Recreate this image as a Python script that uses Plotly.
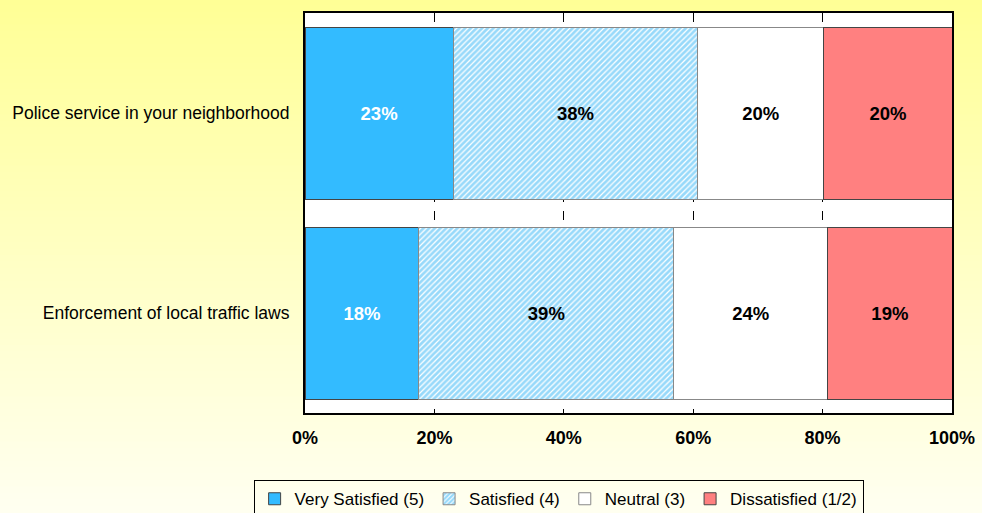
import plotly.graph_objects as go

# Survey items (bottom to top)
categories = ["Enforcement of local traffic laws", "Police service in your neighborhood"]

# Share of respondents per rating, in percent
very_satisfied = [17.6, 22.9]
satisfied = [39.4, 37.8]
neutral = [23.8, 19.5]
dissatisfied = [19.2, 19.8]

series_names = ["Very Satisfied (5)", "Satisfied (4)", "Neutral (3)", "Dissatisfied (1/2)"]
x_ticks = [0, 20, 40, 60, 80, 100]
x_tick_labels = ["0%", "20%", "40%", "60%", "80%", "100%"]

FONT = "Liberation Sans, Arial, sans-serif"
EDGE = dict(color="#444444", width=1)
LABEL_SIZE = 18.5

fig = go.Figure()

fig.add_trace(go.Bar(
    y=categories, x=very_satisfied, name=series_names[0], orientation="h",
    marker=dict(color="#33BBFF", line=EDGE),
    text=very_satisfied, texttemplate="%{x:.0f}%",
    textfont=dict(color="white", size=LABEL_SIZE, family=FONT, weight="bold"),
))
fig.add_trace(go.Bar(
    y=categories, x=satisfied, name=series_names[1], orientation="h",
    marker=dict(color="white", line=dict(color="#888888", width=1),
                pattern=dict(shape="/", fgcolor="#2FB4F5", bgcolor="white",
                             size=4, solidity=0.7)),
    text=satisfied, texttemplate="%{x:.0f}%",
    textfont=dict(color="black", size=LABEL_SIZE, family=FONT, weight="bold"),
))
fig.add_trace(go.Bar(
    y=categories, x=neutral, name=series_names[2], orientation="h",
    marker=dict(color="white", line=dict(color="#888888", width=1)),
    text=neutral, texttemplate="%{x:.0f}%",
    textfont=dict(color="black", size=LABEL_SIZE, family=FONT, weight="bold"),
))
fig.add_trace(go.Bar(
    y=categories, x=dissatisfied, name=series_names[3], orientation="h",
    marker=dict(color="#FF8080", line=EDGE),
    text=dissatisfied, texttemplate="%{x:.0f}%",
    textfont=dict(color="black", size=LABEL_SIZE, family=FONT, weight="bold"),
))

fig.update_traces(textposition="inside", insidetextanchor="middle",
                  textangle=0, constraintext="none", width=0.86)

# Figure geometry in pixels
W, H = 982, 513
M_L, M_R, M_T, M_B = 305, 30, 13, 100
plot_h = H - M_T - M_B

# Vertical yellow-to-cream gradient behind the whole figure, built from strips
shapes = []
n_strips = 80
top_rgb = (255, 255, 150)
bot_rgb = (255, 255, 240)
for i in range(n_strips):
    t = i / (n_strips - 1)
    r, g, b = (round(top_rgb[c] + (bot_rgb[c] - top_rgb[c]) * t) for c in range(3))
    # strip edges measured in pixels from the top of the figure
    top_px = H * i / n_strips
    bot_px = H * (i + 1) / n_strips
    y1 = (H - M_B - top_px) / plot_h + 0.003
    y0 = (H - M_B - bot_px) / plot_h - 0.003
    shapes.append(dict(type="rect", xref="paper", yref="paper",
                       x0=-1, x1=2, y0=y0, y1=y1, layer="below",
                       line=dict(width=0), fillcolor=f"rgb({r},{g},{b})"))

# White plotting area on top of the gradient
shapes.append(dict(type="rect", xref="paper", yref="paper",
                   x0=0, x1=1, y0=0, y1=1, layer="below",
                   line=dict(width=0), fillcolor="white"))

fig.update_layout(
    barmode="stack",
    width=W, height=H,
    margin=dict(l=M_L, r=M_R, t=M_T, b=M_B, autoexpand=False),
    paper_bgcolor="#FFFFF0",
    plot_bgcolor="white",
    shapes=shapes,
    font=dict(family=FONT, color="black"),
    showlegend=True,
    legend=dict(orientation="h", x=0.392, xanchor="center", y=-0.168, yanchor="top",
                bgcolor="rgba(0,0,0,0)", bordercolor="black", borderwidth=1,
                font=dict(size=17, family=FONT, color="black"),
                traceorder="normal", itemwidth=30, tracegroupgap=0),
    xaxis=dict(range=[0, 100], tickvals=x_ticks, ticktext=x_tick_labels,
               showgrid=True, gridcolor="black", gridwidth=1, griddash="dash",
               zeroline=False, showline=True, linecolor="black", linewidth=2, mirror=True,
               ticks="", ticklabelstandoff=7,
               tickfont=dict(size=18, family=FONT, color="black", weight="bold"),
               fixedrange=True),
    yaxis=dict(range=[-0.5, 1.5], categoryorder="array", categoryarray=categories,
               showgrid=False, zeroline=False, showline=True, linecolor="black",
               linewidth=2, mirror=True, ticks="", ticklabelstandoff=10,
               tickfont=dict(size=17.5, family=FONT, color="black"),
               fixedrange=True),
)

fig.write_html("out.html")
